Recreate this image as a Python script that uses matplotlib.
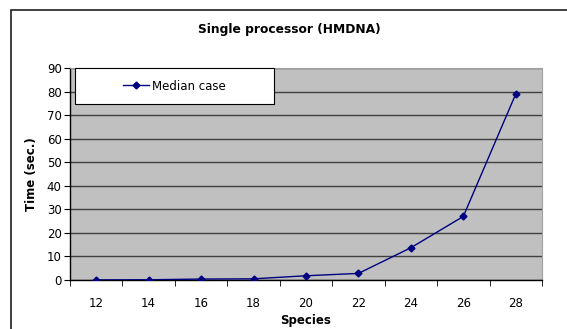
import matplotlib
matplotlib.use('Agg')
import matplotlib.pyplot as plt
from matplotlib.patches import Rectangle

# Data
species = [12, 14, 16, 18, 20, 22, 24, 26, 28]
median_time = [0.05, 0.1, 0.4, 0.5, 1.8, 2.8, 13.7, 27.0, 79.0]
y_ticks = [0, 10, 20, 30, 40, 50, 60, 70, 80, 90]

fig = plt.figure(figsize=(5.67, 3.29), dpi=100)
fig.patch.set_facecolor('white')

# outer chart frame (Excel style)
fig.patches.append(Rectangle((11 / 567, -0.05), 1.1, 1 - 10 / 329 + 0.05,
                             transform=fig.transFigure, fill=False,
                             edgecolor='#202020', linewidth=1.2))

ax = fig.add_axes([70 / 567, 1 - 280 / 329, 472 / 567, 212 / 329])
ax.set_facecolor('#C0C0C0')

x = list(range(len(species)))
ax.plot(x, median_time, color='#000080', marker='D', markersize=3.5,
        linewidth=1, label='Median case', zorder=3)

ax.set_xlim(-0.5, len(species) - 0.5)
ax.set_ylim(0, 90)
ax.set_yticks(y_ticks)
ax.set_xticks(x)
ax.set_xticklabels([str(s) for s in species])
ax.set_xticks([i - 0.5 for i in range(len(species) + 1)], minor=True)
ax.tick_params(axis='x', which='major', length=0, pad=12, labelsize=8.5)
ax.tick_params(axis='x', which='minor', length=4, direction='out', color='black')
ax.tick_params(axis='y', length=4, direction='out', labelsize=8.5, pad=2)

ax.grid(axis='y', color='#404040', linewidth=1)
ax.set_axisbelow(True)

for side in ['top', 'right']:
    ax.spines[side].set_color('#a0a0a0')
    ax.spines[side].set_linewidth(0.8)
for side in ['left', 'bottom']:
    ax.spines[side].set_color('black')
    ax.spines[side].set_linewidth(1)

ax.set_xlabel('Species', fontsize=8.5, fontweight='bold', labelpad=3)
ax.set_ylabel('Time (sec.)', fontsize=8.5, fontweight='bold', labelpad=6)
fig.text(0.5 + 11 / 567 / 2, 1 - 29 / 329, 'Single processor (HMDNA)',
         ha='center', va='center', fontsize=8.8, fontweight='bold')

# legend box (white, black border) in the upper-left of the plot area
lx, ly, lw, lh = 5 / 472, 1 - 36 / 212, 199 / 472, 36 / 212
ax.add_patch(Rectangle((lx, ly), lw, lh, transform=ax.transAxes,
                       facecolor='white', edgecolor='black', linewidth=0.8,
                       zorder=4, clip_on=False))
leg = ax.legend(loc='center', bbox_to_anchor=(lx + lw / 2, ly + lh / 2),
                fontsize=8.5, frameon=False, handlelength=2.2,
                handletextpad=0.3, borderaxespad=0)
leg.set_zorder(5)

plt.savefig('out.png', dpi=100)
plt.close()
